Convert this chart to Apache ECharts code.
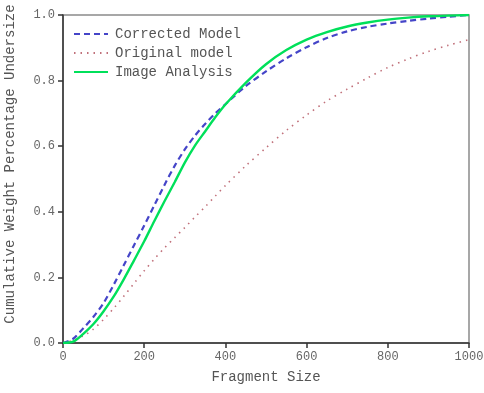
<!DOCTYPE html>
<html>
<head>
<meta charset="utf-8">
<script src="https://cdn.jsdelivr.net/npm/echarts@6/dist/echarts.min.js"></script>
<style>
html, body { margin: 0; padding: 0; background: #fff; }
#main { width: 484px; height: 393px; }
</style>
</head>
<body>
<div id="main"></div>
<script>
var sizes = [0, 25, 50, 75, 100, 125, 150, 175, 200, 225, 250, 275, 300, 325, 350, 375, 400, 450, 500, 550, 600, 650, 700, 750, 800, 850, 900, 950, 1000];
var corrected = [0, 0.013, 0.045, 0.08, 0.122, 0.178, 0.238, 0.298, 0.358, 0.42, 0.482, 0.54, 0.59, 0.632, 0.668, 0.7, 0.728, 0.783, 0.828, 0.868, 0.902, 0.93, 0.95, 0.964, 0.974, 0.982, 0.989, 0.995, 1.0];
var original = [0, 0.008, 0.022, 0.042, 0.072, 0.106, 0.143, 0.182, 0.22, 0.256, 0.29, 0.321, 0.352, 0.384, 0.415, 0.448, 0.48, 0.54, 0.595, 0.648, 0.695, 0.738, 0.774, 0.808, 0.84, 0.866, 0.889, 0.908, 0.925];
var imageAnalysis = [0, 0.004, 0.028, 0.058, 0.097, 0.142, 0.195, 0.252, 0.31, 0.372, 0.432, 0.49, 0.55, 0.602, 0.645, 0.688, 0.727, 0.793, 0.85, 0.893, 0.925, 0.948, 0.965, 0.977, 0.986, 0.992, 0.996, 0.998, 1.0];
var xTicks = [0, 200, 400, 600, 800, 1000];
var yTicks = [0, 0.2, 0.4, 0.6, 0.8, 1.0];

function pairs(ys) {
	return sizes.map(function(x, i) {
		return [x, ys[i]];
	});
}

var font = '"Liberation Mono", monospace';
var chart = echarts.init(document.getElementById('main'));
var option = {
	backgroundColor: '#fff',
	animation: false,
	grid: {
		left: 63,
		right: 15,
		top: 15,
		bottom: 50,
		outerBoundsMode: 'none',
		containLabel: false,
		show: true,
		borderColor: '#8a8a8a',
		borderWidth: 1.5
	},
	legend: {
		left: 68,
		top: 22,
		orient: 'vertical',
		itemWidth: 34,
		itemHeight: 10,
		itemGap: 5,
		itemStyle: { opacity: 0 },
		textStyle: {
			fontFamily: font,
			fontSize: 14,
			color: '#555',
			padding: [0, 0, 0, 2]
		},
		data: ['Corrected Model', 'Original model', 'Image Analysis']
	},
	xAxis: {
		type: 'value',
		min: xTicks[0],
		max: xTicks[xTicks.length - 1],
		interval: 200,
		name: 'Fragment Size',
		nameLocation: 'middle',
		nameGap: 27,
		nameTextStyle: {
			fontFamily: font,
			fontSize: 14,
			color: '#555'
		},
		axisLine: {
			lineStyle: { color: '#333', width: 1.5 }
		},
		axisTick: {
			length: 5,
			lineStyle: { color: '#333', width: 1.5 }
		},
		axisLabel: {
			fontFamily: font,
			fontSize: 12,
			color: '#666',
			margin: 8,
			formatter: function(v) {
				return String(v);
			}
		},
		splitLine: { show: false }
	},
	yAxis: {
		type: 'value',
		min: yTicks[0],
		max: yTicks[yTicks.length - 1],
		interval: 0.2,
		name: 'Cumulative Weight Percentage Undersize',
		nameLocation: 'middle',
		nameGap: 46,
		nameTextStyle: {
			fontFamily: font,
			fontSize: 14,
			color: '#555',
			padding: [0, 0, 0, 30]
		},
		axisLine: {
			lineStyle: { color: '#333', width: 1.5 }
		},
		axisTick: {
			length: 5,
			lineStyle: { color: '#333', width: 1.5 }
		},
		axisLabel: {
			fontFamily: font,
			fontSize: 12,
			color: '#666',
			margin: 8,
			formatter: function(v) {
				return v.toFixed(1);
			}
		},
		splitLine: { show: false }
	},
	series: [{
		name: 'Corrected Model',
		type: 'line',
		smooth: 0.3,
		symbol: 'none',
		data: pairs(corrected),
		lineStyle: { color: '#4545c8', width: 2.2, type: [6, 4] },
		itemStyle: { color: '#4545c8' }
	}, {
		name: 'Original model',
		type: 'line',
		smooth: 0.3,
		symbol: 'none',
		data: pairs(original),
		lineStyle: { color: '#c0707a', width: 1.6, type: [1.5, 5] },
		itemStyle: { color: '#c0707a' }
	}, {
		name: 'Image Analysis',
		type: 'line',
		smooth: 0.3,
		symbol: 'none',
		data: pairs(imageAnalysis),
		lineStyle: { color: '#00e05a', width: 2.4 },
		itemStyle: { color: '#00e05a' }
	}]
};
chart.setOption(option);
window.onresize = chart.resize;
</script>
</body>
</html>
